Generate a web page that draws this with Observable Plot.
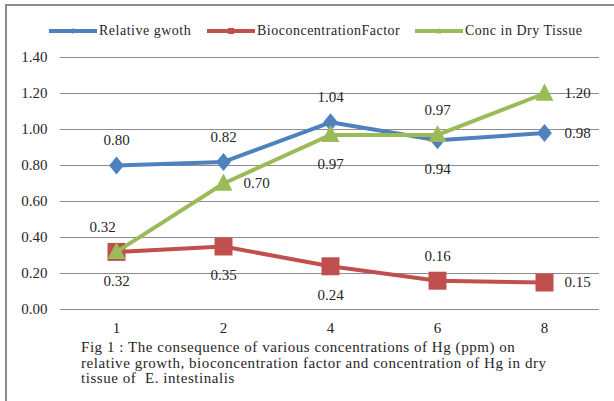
<!DOCTYPE html>
<html>
<head>
<meta charset="utf-8">
<script src="https://cdn.jsdelivr.net/npm/d3@7"></script>
<script src="https://cdn.jsdelivr.net/npm/@observablehq/plot@0.6"></script>
<style>
  body { margin: 0; background: #fff; }
  #frame { position: relative; width: 614px; height: 401px; overflow: hidden;
           font-family: "Liberation Serif", "Times New Roman", serif; color: #262626; }
  #border { position: absolute; left: 5px; top: 4px; width: 700px; height: 500px;
            border-left: 2px solid #8c8c8c; border-top: 2px solid #8c8c8c; }
  #legend { position: absolute; top: 0; left: 0; width: 614px; height: 40px; }
  .item { position: absolute; top: 22px; height: 18px; display: flex; align-items: center;
          font-size: 14px; letter-spacing: 0.5px; white-space: nowrap; }
  .item svg { display: block; margin-right: 2px; }
  #chart { position: absolute; left: 0; top: 40px; }
  #caption { position: absolute; left: 81px; top: 340px; font-size: 15px; line-height: 15.6px;
             letter-spacing: 0.55px; white-space: nowrap; }
</style>
</head>
<body>
<div id="frame">
  <div id="border"></div>
  <div id="legend"></div>
  <div id="chart"></div>
  <div id="caption"></div>
</div>
<script>
// Hg concentration (ppm) on the x axis
const concentrations = ["1", "2", "4", "6", "8"];

// Series values
const relativeGrowth = [0.80, 0.82, 1.04, 0.94, 0.98];
const bioconcentrationFactor = [0.32, 0.35, 0.24, 0.16, 0.15];
const concInDryTissue = [0.32, 0.70, 0.97, 0.97, 1.20];

// Series names as shown in the legend
const seriesNames = ["Relative gwoth", "BioconcentrationFactor", "Conc in Dry Tissue"];

// Y axis ticks
const yTicks = [0, 0.2, 0.4, 0.6, 0.8, 1.0, 1.2, 1.4];

// Where each data label sits relative to its point
const growthLabelPos = ["above", "above", "above", "below", "right"];
const bcfLabelPos = ["below", "below", "below", "above", "right"];
const concLabelPos = ["aboveLeft", "right", "below", "above", "right"];

const captionLines = [
  "Fig 1 : The consequence of various concentrations of Hg (ppm) on",
  "relative growth, bioconcentration factor and concentration of Hg in dry",
  "tissue of  E. intestinalis"
];

const colors = ["#4f81bd", "#c0504d", "#9bbb59"];

// Marker shapes
const diamond = {
  draw(ctx, size) {
    const r = Math.sqrt(size / Math.PI);
    ctx.moveTo(0, -r); ctx.lineTo(r * 0.82, 0); ctx.lineTo(0, r); ctx.lineTo(-r * 0.82, 0); ctx.closePath();
  }
};
const square = {
  draw(ctx, size) {
    const r = Math.sqrt(size / Math.PI);
    ctx.rect(-r, -r, 2 * r, 2 * r);
  }
};
const triangle = {
  draw(ctx, size) {
    const r = Math.sqrt(size / Math.PI);
    ctx.moveTo(0, -r * 1.1); ctx.lineTo(r, r * 0.8); ctx.lineTo(-r, r * 0.8); ctx.closePath();
  }
};

const series = [
  {name: seriesNames[0], values: relativeGrowth, pos: growthLabelPos, color: colors[0], symbol: diamond, r: 9},
  {name: seriesNames[1], values: bioconcentrationFactor, pos: bcfLabelPos, color: colors[1], symbol: square, r: 9},
  {name: seriesNames[2], values: concInDryTissue, pos: concLabelPos, color: colors[2], symbol: triangle, r: 9}
];

const rowsOf = (s) => concentrations.map((c, i) => ({conc: c, value: s.values[i], pos: s.pos[i], series: s.name}));

const placements = {
  above: {dx: 0, dy: -25, textAnchor: "middle"},
  aboveLeft: {dx: -14, dy: -25, textAnchor: "middle"},
  below: {dx: 0, dy: 29, textAnchor: "middle"},
  right: {dx: 20, dy: 0, textAnchor: "start"}
};

const fmt = d3.format(".2f");

const marks = [
  Plot.gridY(yTicks, {stroke: "#8c8c8c", strokeOpacity: 1, strokeWidth: 1}),
  Plot.axisY(yTicks, {tickFormat: fmt, tickSize: 0, tickPadding: 13, label: null}),
  Plot.axisX({tickSize: 0, tickPadding: 13, label: null})
];

for (const s of series) {
  const rows = rowsOf(s);
  marks.push(Plot.line(rows, {x: "conc", y: "value", stroke: s.color, strokeWidth: 4}));
  marks.push(Plot.dot(rows, {x: "conc", y: "value", fill: s.color, stroke: "none", symbol: s.symbol, r: s.r}));
}

for (const s of series) {
  const rows = rowsOf(s);
  for (const [key, p] of Object.entries(placements)) {
    const subset = rows.filter((d) => d.pos === key);
    if (!subset.length) continue;
    marks.push(Plot.text(subset, {x: "conc", y: "value", text: (d) => fmt(d.value), fill: "#262626", ...p}));
  }
}

const chart = Plot.plot({
  width: 614,
  height: 300,
  marginTop: 17,
  marginBottom: 31,
  marginLeft: 60,
  marginRight: 15,
  x: {type: "point", domain: concentrations, padding: 0.5},
  y: {domain: [0, 1.4]},
  style: {fontFamily: "Liberation Serif, Times New Roman, serif", fontSize: "15px", color: "#262626", background: "transparent"},
  marks
});
document.getElementById("chart").appendChild(chart);

// Legend
const legendLeft = [49, 207, 415];
const legend = document.getElementById("legend");
series.forEach((s, i) => {
  const item = document.createElement("div");
  item.className = "item";
  item.style.left = legendLeft[i] + "px";
  const sw = d3.create("svg").attr("width", 48).attr("height", 10);
  sw.append("line").attr("x1", 0).attr("x2", 48).attr("y1", 5).attr("y2", 5)
    .attr("stroke", s.color).attr("stroke-width", 4);
  sw.append("path").attr("transform", "translate(24,5)")
    .attr("d", d3.symbol(s.symbol, Math.PI * 9)()).attr("fill", s.color);
  item.appendChild(sw.node());
  const label = document.createElement("span");
  label.textContent = s.name;
  item.appendChild(label);
  legend.appendChild(item);
});

// Caption
document.getElementById("caption").innerHTML = captionLines.map((t) => t.replace(/ {2}/g, " \u00a0")).join("<br>");
</script>
</body>
</html>
